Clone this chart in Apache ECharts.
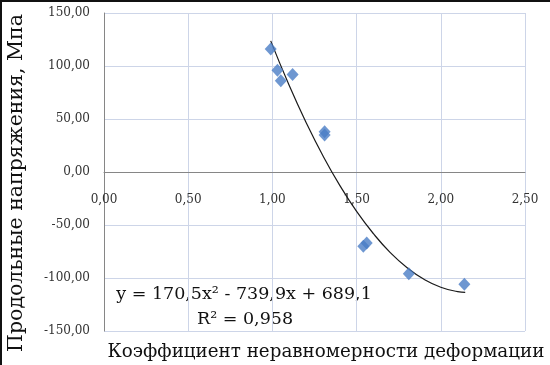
<!DOCTYPE html>
<html>
<head>
<meta charset="utf-8">
<script src="https://cdn.jsdelivr.net/npm/echarts@6/dist/echarts.min.js"></script>
<style>
html,body{margin:0;padding:0;background:#fff;}
#chart{width:550px;height:365px;}
</style>
</head>
<body>
<div id="chart"></div>
<script>
// Measured points: coefficient of non-uniformity (x) vs longitudinal stress, MPa (y)
const pointX = [0.99, 1.03, 1.05, 1.12, 1.31, 1.31, 1.54, 1.56, 1.81, 2.14];
const pointY = [116, 96, 86, 92, 38, 35, -70, -67, -96, -106];
// Polynomial trendline samples
const trendX = [0.99, 1.1, 1.2, 1.3, 1.4, 1.5, 1.6, 1.7, 1.8, 1.9, 2.0, 2.1, 2.145];
const trendY = [123.7, 81.5, 46.7, 15.3, -12.6, -37.2, -58.2, -76.0, -90.3, -101.2, -108.7, -112.8, -113.5];
const xTitle = 'Коэффициент неравномерности деформации';
const yTitle = 'Продольные напряжения, Мпа';
const eqText = 'y = 170,5x² - 739,9x + 689,1';
const r2Text = 'R² = 0,958';

const serif = 'DejaVu Serif';
const chart = echarts.init(document.getElementById('chart'), null, {renderer: 'canvas'});
const fmt = v => v.toFixed(2).replace('.', ',');
chart.setOption({
  animation: false,
  grid: {left: 104, right: 25, top: 13, bottom: 34, containLabel: false},
  xAxis: {
    type: 'value', min: 0, max: 2.5, interval: 0.5,
    position: 'bottom', offset: -159,
    axisLine: {onZero: false, lineStyle: {color: '#868686', width: 1}},
    axisTick: {show: false},
    axisLabel: {formatter: fmt, color: '#333', fontFamily: serif, fontSize: 12, margin: 22},
    splitLine: {show: true, lineStyle: {color: '#cdd5e8', width: 1}}
  },
  yAxis: {
    type: 'value', min: -150, max: 150, interval: 50,
    axisLine: {show: true, onZero: false, lineStyle: {color: '#868686', width: 1}},
    axisTick: {show: false},
    axisLabel: {formatter: fmt, color: '#333', fontFamily: serif, fontSize: 12, margin: 14},
    splitLine: {show: true, lineStyle: {color: '#cdd5e8', width: 1}}
  },
  series: [
    {
      type: 'line', data: trendX.map((x, i) => [x, trendY[i]]),
      smooth: true, showSymbol: false, symbol: 'none',
      lineStyle: {color: '#1a1a1a', width: 1.2}, z: 2
    },
    {
      type: 'scatter', data: pointX.map((x, i) => [x, pointY[i]]),
      symbol: 'diamond', symbolSize: [12, 13],
      itemStyle: {color: '#4a7dc6'}, z: 3
    }
  ],
  graphic: [
    {type: 'rect', shape: {x: 1, y: 1, width: 560, height: 380}, style: {fill: 'none', stroke: '#111', lineWidth: 2}, silent: true},
    {type: 'text', x: 326, y: 352, style: {text: xTitle, font: '18.3px "DejaVu Serif"', fill: '#111', align: 'center', verticalAlign: 'middle'}},
    {type: 'text', x: 17, y: 183, rotation: Math.PI / 2, style: {text: yTitle, font: '20.5px "DejaVu Serif"', fill: '#111', align: 'center', verticalAlign: 'middle'}},
    {type: 'text', x: 244, y: 294, style: {text: eqText, font: '17.5px "DejaVu Serif"', fill: '#111', align: 'center', verticalAlign: 'middle'}},
    {type: 'text', x: 245, y: 319, style: {text: r2Text, font: '17.5px "DejaVu Serif"', fill: '#111', align: 'center', verticalAlign: 'middle'}}
  ]
});
</script>
</body>
</html>
